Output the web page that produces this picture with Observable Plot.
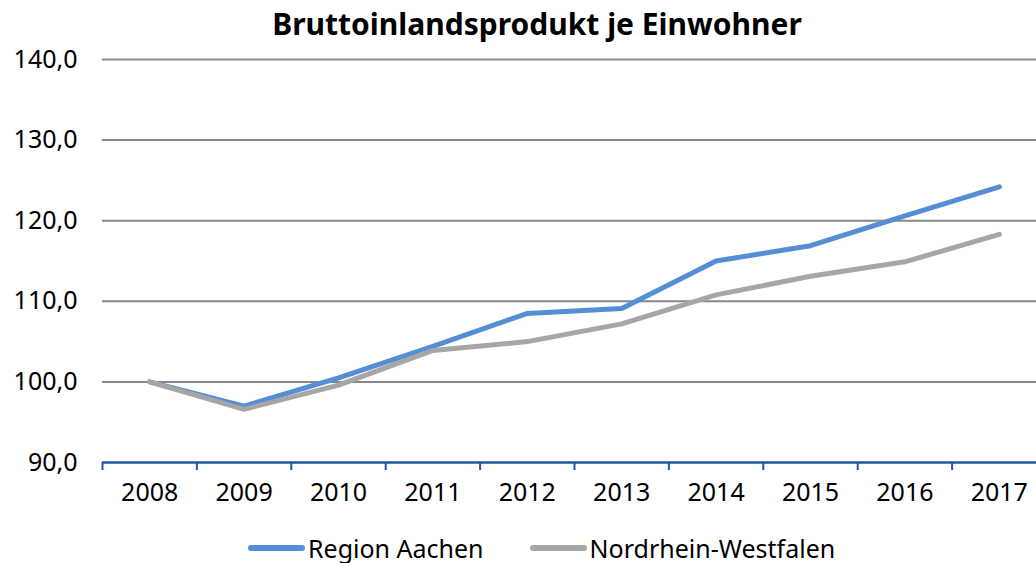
<!DOCTYPE html>
<html>
<head>
<meta charset="utf-8">
<script src="https://cdn.jsdelivr.net/npm/d3@7"></script>
<script src="https://cdn.jsdelivr.net/npm/@observablehq/plot@0.6"></script>
<style>
  html, body { margin: 0; padding: 0; background: #fff; }
  body { width: 1036px; height: 563px; position: relative; overflow: hidden; font-family: "Noto Sans", sans-serif; color: #000; }
  #title { position: absolute; left: 38px; top: 0; width: 998px; height: 47px; line-height: 47px; text-align: center; font-size: 30px; font-weight: bold; z-index: 2; }
  #chart { position: absolute; left: 0; top: 36px; z-index: 1; }
  #legend { position: absolute; left: 248px; top: 534px; height: 28px; display: flex; align-items: center; font-size: 25px; line-height: 28px; }
  .item { display: flex; align-items: center; }
  .item + .item { margin-left: 46px; }
  .sw { display: inline-block; width: 57px; height: 6px; border-radius: 3px; margin-right: 3px; }
</style>
</head>
<body>
<div id="title">Bruttoinlandsprodukt je Einwohner</div>
<div id="chart"></div>
<div id="legend"></div>
<script>
const years = [2008, 2009, 2010, 2011, 2012, 2013, 2014, 2015, 2016, 2017];
const seriesNames = ["Region Aachen", "Nordrhein-Westfalen"];
const regionAachen = [100.0, 97.0, 100.5, 104.4, 108.5, 109.1, 115.0, 116.9, 120.6, 124.2];
const nordrheinWestfalen = [100.0, 96.6, 99.6, 103.9, 105.0, 107.2, 110.8, 113.1, 114.9, 118.3];
const yTicks = [90, 100, 110, 120, 130, 140];
const colors = ["#558ED5", "#A6A6A6"];

const rows = [];
years.forEach((y, i) => {
  rows.push({year: y, value: regionAachen[i], series: seriesNames[0]});
  rows.push({year: y, value: nordrheinWestfalen[i], series: seriesNames[1]});
});
const boundaries = years.map(y => y - 0.5);
const fmt = d => d.toFixed(1).replace(".", ",");
const axisBlue = "#2157A3";

const chart = Plot.plot({
  width: 1036,
  height: 482,
  marginTop: 23,
  marginBottom: 56,
  marginLeft: 102,
  marginRight: 0,
  style: {fontFamily: "Noto Sans", fontSize: "25px", color: "#000", background: "transparent", overflow: "hidden"},
  x: {type: "linear", domain: [years[0] - 0.5, years[years.length - 1] + 0.5], range: [102, 1046]},
  y: {domain: [yTicks[0], yTicks[yTicks.length - 1]]},
  color: {domain: seriesNames, range: colors},
  marks: [
    Plot.gridY(yTicks.slice(1), {stroke: "#878787", strokeOpacity: 1, strokeWidth: 2}),
    Plot.axisY(yTicks, {tickSize: 0, tickPadding: 25, tickFormat: fmt, label: null, fill: "#000"}),
    Plot.ruleY([yTicks[0]], {stroke: axisBlue, strokeWidth: 2.5}),
    Plot.axisX(boundaries, {tickSize: 8, tickFormat: () => "", stroke: axisBlue, strokeWidth: 2, strokeOpacity: 1, label: null}),
    Plot.axisX(years, {tickSize: 0, tickPadding: 21, tickFormat: d => String(d), label: null, fill: "#000"}),
    Plot.line(rows, {x: "year", y: "value", z: "series", stroke: "series", strokeWidth: 5, strokeLinecap: "round", strokeLinejoin: "round"})
  ]
});
document.getElementById("chart").appendChild(chart);

const legend = document.getElementById("legend");
seriesNames.forEach((name, i) => {
  const item = document.createElement("div");
  item.className = "item";
  const sw = document.createElement("span");
  sw.className = "sw";
  sw.style.background = colors[i];
  const t = document.createElement("span");
  t.textContent = name;
  item.appendChild(sw);
  item.appendChild(t);
  legend.appendChild(item);
});
</script>
</body>
</html>
